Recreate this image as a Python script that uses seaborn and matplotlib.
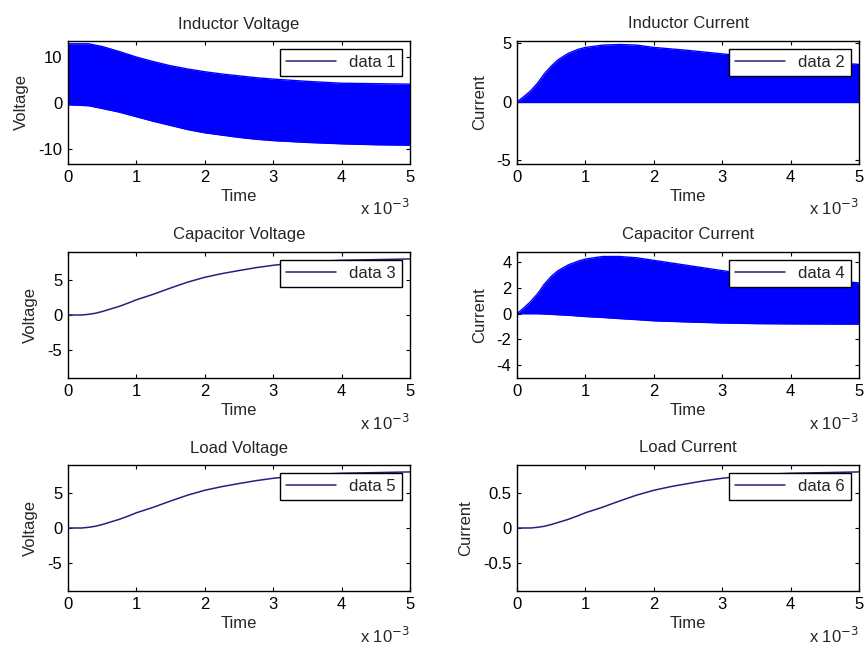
import matplotlib
matplotlib.use("Agg")
import matplotlib.pyplot as plt
from matplotlib.ticker import FuncFormatter
import seaborn as sns
import pandas as pd

# time in ms (axis shows a "x 10^-3" multiplier like the original)
# inductor voltage band (switching between upper and lower level)
t_vl = [0, 0.3, 0.5, 0.75, 1.0, 1.25, 1.5, 1.75, 2.0, 2.25, 2.5, 2.75, 3.0, 3.5, 4.0, 4.5, 5.0]
vl_upper = [12.9, 12.9, 12.3, 11.2, 10.0, 9.0, 8.1, 7.4, 6.8, 6.3, 5.9, 5.5, 5.2, 4.7, 4.3, 4.2, 4.1]
vl_lower = [-0.4, -0.6, -1.2, -2.0, -3.0, -4.0, -4.9, -5.8, -6.5, -7.0, -7.5, -7.9, -8.2, -8.6, -8.9, -9.1, -9.2]

# inductor / capacitor current bands
t_i = [0, 0.1, 0.2, 0.3, 0.4, 0.5, 0.6, 0.75, 0.9, 1.0, 1.25, 1.5, 1.75, 2.0, 2.5, 3.0, 3.5, 4.0, 4.5, 5.0]
il_upper = [0, 0.45, 0.95, 1.6, 2.4, 3.05, 3.6, 4.15, 4.5, 4.65, 4.85, 4.9, 4.85, 4.65, 4.4, 4.1, 3.8, 3.6, 3.4, 3.2]
il_lower = [0, 0, 0, 0, 0, 0, 0, 0, 0, 0, 0, 0, 0, 0, 0, 0, 0, 0, 0, 0]
ic_upper = [0, 0.45, 0.95, 1.55, 2.3, 2.9, 3.35, 3.8, 4.1, 4.25, 4.45, 4.45, 4.35, 4.15, 3.75, 3.35, 3.0, 2.8, 2.6, 2.4]
ic_lower = [0, 0, 0, 0, -0.02, -0.05, -0.08, -0.12, -0.18, -0.22, -0.29, -0.38, -0.46, -0.55, -0.64, -0.72, -0.77, -0.79, -0.8, -0.81]

# smooth outputs
t_v = [0, 0.2, 0.3, 0.4, 0.5, 0.6, 0.75, 0.9, 1.0, 1.25, 1.5, 1.75, 2.0, 2.25, 2.5, 2.75, 3.0, 3.25, 3.5, 3.75, 4.0, 4.5, 5.0]
vc = [0, 0, 0.1, 0.25, 0.5, 0.8, 1.25, 1.8, 2.2, 3.0, 3.9, 4.75, 5.45, 5.98, 6.42, 6.84, 7.18, 7.45, 7.65, 7.8, 7.9, 8.0, 8.1]
v_load = [0, 0, 0.1, 0.25, 0.5, 0.8, 1.25, 1.8, 2.2, 3.0, 3.9, 4.75, 5.45, 5.98, 6.42, 6.84, 7.18, 7.45, 7.65, 7.8, 7.9, 8.0, 8.1]
i_load = [0, 0, 0.01, 0.025, 0.05, 0.08, 0.125, 0.18, 0.22, 0.3, 0.39, 0.475, 0.545, 0.598, 0.642, 0.684, 0.718, 0.745, 0.765, 0.78, 0.79, 0.8, 0.81]

titles = ["Inductor Voltage", "Inductor Current", "Capacitor Voltage",
          "Capacitor Current", "Load Voltage", "Load Current"]
ylabels = ["Voltage", "Current", "Voltage", "Current", "Voltage", "Current"]
legend_labels = ["data 1", "data 2", "data 3", "data 4", "data 5", "data 6"]
ylims = [(-13.3, 13.5), (-5.3, 5.2), (-9.1, 9.1), (-5.0, 4.8), (-9.1, 9.1), (-0.91, 0.91)]
yticks = [[-10, 0, 10], [-5, 0, 5], [-5, 0, 5], [-4, -2, 0, 2, 4], [-5, 0, 5], [-0.5, 0, 0.5]]

sns.set_theme(style="ticks")
plt.rcParams['font.family'] = ['Liberation Sans', 'DejaVu Sans']
plt.rcParams['font.size'] = 12
plt.rcParams['axes.unicode_minus'] = False
plt.rcParams['xtick.direction'] = 'in'
plt.rcParams['ytick.direction'] = 'in'
plt.rcParams['xtick.top'] = True
plt.rcParams['ytick.right'] = True
plt.rcParams['xtick.major.size'] = 3
plt.rcParams['ytick.major.size'] = 3
plt.rcParams['xtick.color'] = 'black'
plt.rcParams['ytick.color'] = 'black'
plt.rcParams['axes.edgecolor'] = 'black'

fill_col = "#0000ff"
line_col = "#22227f"

bands = {0: (t_vl, vl_upper, vl_lower), 1: (t_i, il_upper, il_lower), 3: (t_i, ic_upper, ic_lower)}
curves = {2: vc, 4: v_load, 5: i_load}

fig, axes = plt.subplots(3, 2, figsize=(8.68, 6.49), dpi=100)
axes = axes.flatten()

W, H = 868, 649
cols_px = [68, 517]
rows_px = [(41, 164), (252, 378), (465, 591)]

for i, ax in enumerate(axes):
    r, c = divmod(i, 2)
    top, bot = rows_px[r]
    ax.set_position([cols_px[c] / W, 1 - bot / H, 342 / W, (bot - top) / H])

    if i in bands:
        t, up, lo = bands[i]
        df = pd.DataFrame({"t": t, "up": up, "lo": lo})
        ax.fill_between(df["t"], df["lo"], df["up"], color=fill_col, lw=0)
        sns.lineplot(data=df, x="t", y="up", ax=ax, color=fill_col, lw=1, label=legend_labels[i])
        sns.lineplot(data=df, x="t", y="lo", ax=ax, color=fill_col, lw=1)
    else:
        df = pd.DataFrame({"t": t_v, "y": curves[i]})
        sns.lineplot(data=df, x="t", y="y", ax=ax, color=line_col, lw=1.1, label=legend_labels[i])

    ax.set_xlim(0, 5)
    ax.set_ylim(*ylims[i])
    ax.set_xticks([0, 1, 2, 3, 4, 5])
    ax.set_yticks(yticks[i])
    ax.yaxis.set_major_formatter(FuncFormatter(lambda v, p: "%g" % v))
    ax.set_title(titles[i], fontsize=12, pad=9)
    ax.set_xlabel("Time", fontsize=12, labelpad=3)
    ax.set_ylabel(ylabels[i], fontsize=12, labelpad=7)
    ax.tick_params(labelsize=12, pad=4, width=0.8)
    for s in ax.spines.values():
        s.set_linewidth(1)
    ax.text(1.0, -0.36, r"x 10$^{-3}$", transform=ax.transAxes, ha="right", va="center", fontsize=12)

    leg = ax.legend(loc="upper right", frameon=True, fancybox=False, framealpha=1,
                    edgecolor="black", handlelength=3.0, handletextpad=0.8,
                    borderpad=0.35, borderaxespad=0.5, fontsize=12)
    leg.get_frame().set_linewidth(1)
    for h in leg.get_lines():
        h.set_color(line_col)
        h.set_linewidth(1.1)

plt.savefig("out.png", dpi=100)
